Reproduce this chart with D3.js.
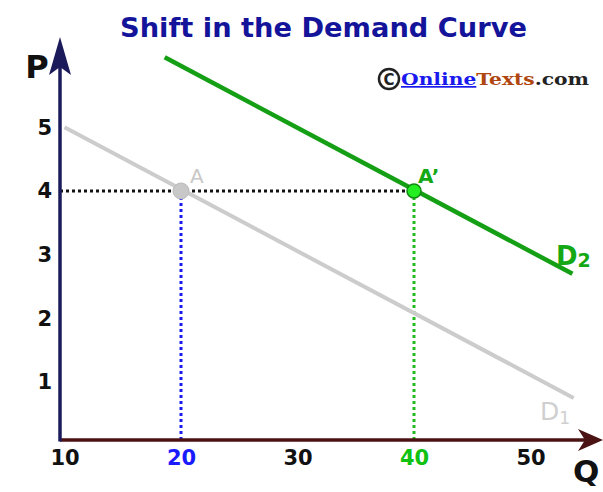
<!DOCTYPE html>
<html>
<head>
<meta charset="utf-8">
<script src="https://cdn.jsdelivr.net/npm/d3@7"></script>
<style>
  html, body { margin: 0; padding: 0; background: #fff; }
  svg { display: block; }
</style>
</head>
<body>
<div id="chart"></div>
<script>
// Data
const qTicks = [10, 20, 30, 40, 50];
const pTicks = [1, 2, 3, 4, 5];
const qTickColors = ['#111', '#1a1aff', '#111', '#12c212', '#111'];
const demand1 = [[10, 5], [53.7, 0.75]];
const demand2 = [[18.6, 6.1], [53.6, 2.7]];
const pointA = [20, 4];
const pointA2 = [40, 4];

const W = 603, H = 492;

const svg = d3.select('#chart').append('svg')
  .attr('width', W).attr('height', H);

const x = d3.scaleLinear().domain([10, 50]).range([64.5, 530.5]);
const y = d3.scaleLinear().domain([0, 5]).range([445.7, 127.3]);

const axisX0 = 60, axisY0 = 440;

// Title
svg.append('text')
  .attr('x', 120).attr('y', 37)
  .attr('textLength', 407).attr('lengthAdjust', 'spacingAndGlyphs')
  .attr('fill', '#14149a')
  .style('font-family', '"DejaVu Sans", Verdana, sans-serif')
  .style('font-size', '26px')
  .style('font-weight', 'bold')
  .text('Shift in the Demand Curve');

// Watermark
const wm = svg.append('g').attr('transform', 'translate(378,79)');
wm.append('circle').attr('cx', 11).attr('cy', 0).attr('r', 10)
  .attr('fill', 'none').attr('stroke', '#222').attr('stroke-width', 2.5);
wm.append('text').attr('x', 11).attr('y', 5.5).attr('text-anchor', 'middle')
  .style('font-family', '"DejaVu Sans", sans-serif').style('font-size', '15px')
  .style('font-weight', 'bold').attr('fill', '#222').text('C');
const wmText = wm.append('text').attr('x', 23).attr('y', 6)
  .attr('textLength', 188).attr('lengthAdjust', 'spacingAndGlyphs')
  .style('font-family', '"DejaVu Serif", serif')
  .style('font-size', '17px').style('font-weight', 'bold');
wmText.append('tspan').attr('fill', '#1a1aee').style('text-decoration', 'underline').text('Online');
wmText.append('tspan').attr('fill', '#b0460f').text('Texts');
wmText.append('tspan').attr('fill', '#222').text('.com');

// Guide lines (dotted)
svg.append('line')
  .attr('x1', axisX0).attr('x2', x(pointA2[0]))
  .attr('y1', y(4)).attr('y2', y(4))
  .attr('stroke', '#111').attr('stroke-width', 3).attr('stroke-dasharray', '3,3');
svg.append('line')
  .attr('x1', x(pointA[0])).attr('x2', x(pointA[0]))
  .attr('y1', y(pointA[1])).attr('y2', axisY0)
  .attr('stroke', '#1a1aee').attr('stroke-width', 3).attr('stroke-dasharray', '3,3');
svg.append('line')
  .attr('x1', x(pointA2[0])).attr('x2', x(pointA2[0]))
  .attr('y1', y(pointA2[1])).attr('y2', axisY0)
  .attr('stroke', '#22bb22').attr('stroke-width', 3).attr('stroke-dasharray', '3,3');

// Demand curves
const line = d3.line().x(d => x(d[0])).y(d => y(d[1]));
svg.append('path').attr('d', line(demand1))
  .attr('fill', 'none').attr('stroke', '#cccccc').attr('stroke-width', 4);
svg.append('path').attr('d', line(demand2))
  .attr('fill', 'none').attr('stroke', '#159f15').attr('stroke-width', 4.5);

// Points
svg.append('circle').attr('cx', x(pointA[0])).attr('cy', y(pointA[1])).attr('r', 8)
  .attr('fill', '#c8c8c8').attr('stroke', '#bdbdbd').attr('stroke-width', 1);
svg.append('circle').attr('cx', x(pointA2[0])).attr('cy', y(pointA2[1])).attr('r', 7)
  .attr('fill', '#22ee22').attr('stroke', '#118811').attr('stroke-width', 1.5);

// Point labels
svg.append('text').attr('x', x(pointA[0]) + 9).attr('y', y(pointA[1]) - 8)
  .attr('fill', '#c8c8c8')
  .style('font-family', '"DejaVu Sans", sans-serif').style('font-size', '20px')
  .text('A');
svg.append('text').attr('x', x(pointA2[0]) + 4).attr('y', y(pointA2[1]) - 8)
  .attr('fill', '#14a814')
  .style('font-family', '"DejaVu Sans", sans-serif').style('font-size', '20px')
  .style('font-weight', 'bold')
  .text('A\u2019');

// Curve labels
const d2lab = svg.append('text').attr('x', 556).attr('y', 265)
  .attr('fill', '#14a814')
  .style('font-family', '"DejaVu Sans", sans-serif').style('font-weight', 'bold');
d2lab.append('tspan').style('font-size', '26px').text('D');
d2lab.append('tspan').attr('dy', 2).style('font-size', '19px').text('2');

const d1lab = svg.append('text').attr('x', 540).attr('y', 420)
  .attr('fill', '#cfcfcf')
  .style('font-family', '"DejaVu Sans", sans-serif');
d1lab.append('tspan').style('font-size', '25px').text('D');
d1lab.append('tspan').attr('dy', 4).style('font-size', '17px').text('1');

// Axes lines
svg.append('line').attr('x1', axisX0).attr('x2', 585).attr('y1', axisY0).attr('y2', axisY0)
  .attr('stroke', '#4a1212').attr('stroke-width', 3.5);
svg.append('path').attr('d', 'M603,440 L578,429 L585,440 L578,451 Z').attr('fill', '#4a1212');

svg.append('line').attr('x1', axisX0).attr('x2', axisX0).attr('y1', axisY0 + 1.5).attr('y2', 62)
  .attr('stroke', '#1b1b5c').attr('stroke-width', 3.5);
svg.append('path').attr('d', 'M60,37 L49,75 L60,67 L71,75 Z').attr('fill', '#1b1b5c');

// Tick labels
const xAxis = svg.append('g').attr('transform', `translate(0,${axisY0})`)
  .call(d3.axisBottom(x).tickValues(qTicks).tickSize(0).tickPadding(10).tickFormat(d3.format('d')));
xAxis.select('.domain').remove();
xAxis.selectAll('text')
  .style('font-family', '"DejaVu Sans", sans-serif')
  .style('font-size', '21px').style('font-weight', 'bold')
  .attr('fill', (d, i) => qTickColors[i]);

const yAxis = svg.append('g').attr('transform', `translate(${axisX0},0)`)
  .call(d3.axisLeft(y).tickValues(pTicks).tickSize(0).tickPadding(8).tickFormat(d3.format('d')));
yAxis.select('.domain').remove();
yAxis.selectAll('text')
  .style('font-family', '"DejaVu Sans", sans-serif')
  .style('font-size', '21px').style('font-weight', 'bold')
  .attr('fill', '#111');

// Axis titles
svg.append('text').attr('x', 37).attr('y', 78).attr('text-anchor', 'middle')
  .attr('fill', '#111')
  .style('font-family', '"DejaVu Sans", sans-serif').style('font-size', '32px')
  .style('font-weight', 'bold')
  .text('P');
svg.append('text').attr('x', 573).attr('y', 482)
  .attr('fill', '#111')
  .style('font-family', '"DejaVu Sans", sans-serif').style('font-size', '31px')
  .style('font-weight', 'bold')
  .text('Q');
</script>
</body>
</html>
